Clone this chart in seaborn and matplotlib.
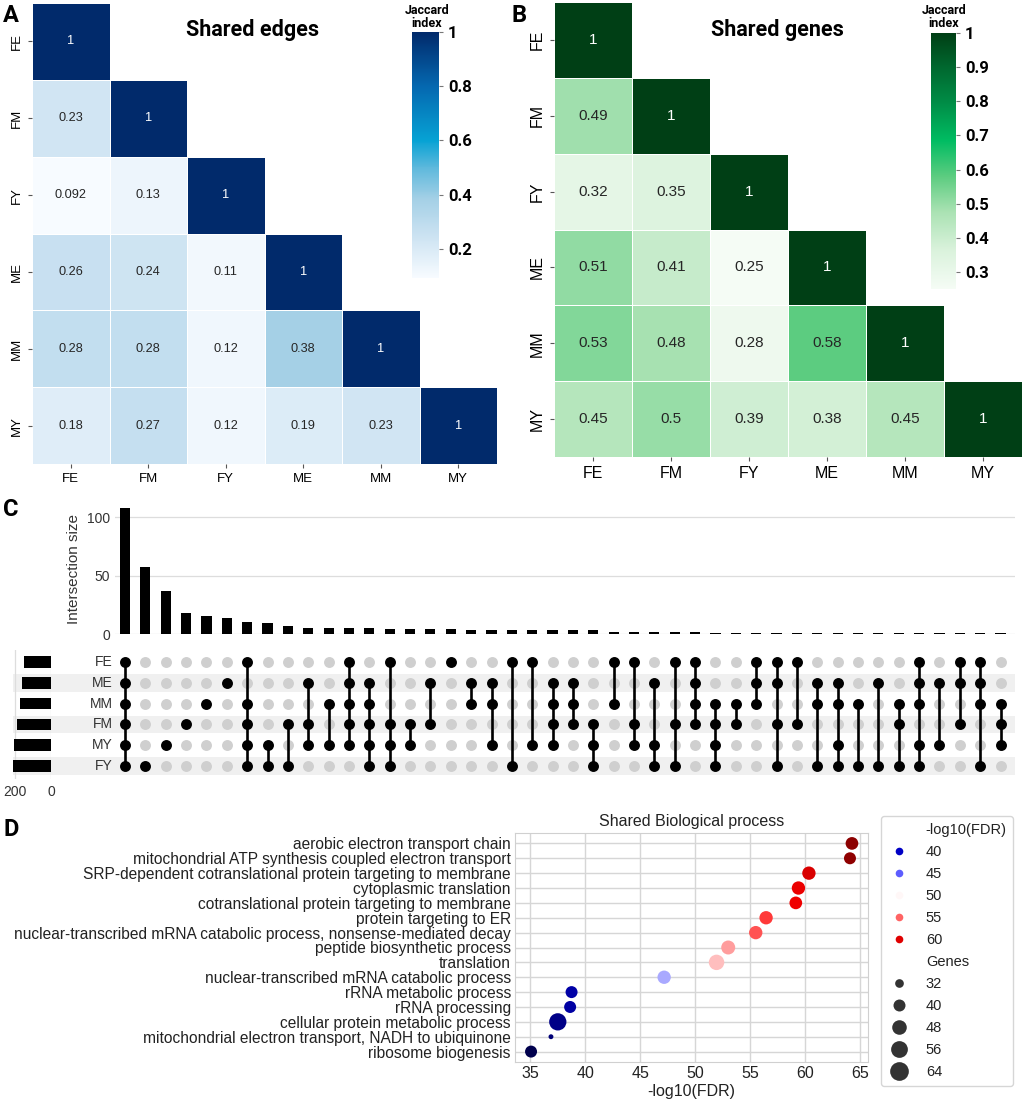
import numpy as np
import pandas as pd
import matplotlib
matplotlib.use("Agg")
import matplotlib.pyplot as plt
import seaborn as sns
from matplotlib.colors import LinearSegmentedColormap, Normalize
from matplotlib.lines import Line2D

# ---------------- data ----------------
samples = ["FE", "FM", "FY", "ME", "MM", "MY"]
edges_lower = [
    [1],
    [0.23, 1],
    [0.092, 0.13, 1],
    [0.26, 0.24, 0.11, 1],
    [0.28, 0.28, 0.12, 0.38, 1],
    [0.18, 0.27, 0.12, 0.19, 0.23, 1],
]
genes_lower = [
    [1],
    [0.49, 1],
    [0.32, 0.35, 1],
    [0.51, 0.41, 0.25, 1],
    [0.53, 0.48, 0.28, 0.58, 1],
    [0.45, 0.5, 0.39, 0.38, 0.45, 1],
]

upset_sets = ["FE", "ME", "MM", "FM", "MY", "FY"]
set_sizes = [148, 160, 170, 188, 202, 210]
intersections = [
    "FE ME MM FM MY FY", "FY", "MY", "FM", "MM", "ME",
    "FE MM FM MY FY", "MY FY", "FM FY", "ME FM MY", "MM MY",
    "FE ME MM FM MY", "ME MM FM MY FY", "FE FM MY FY", "FM MY", "ME FM",
    "FE", "ME MM", "ME MM MY", "FE FY", "FE MY", "ME MM FM MY",
    "ME MM FM", "FM MY FY", "FE MM", "FE FM MY", "ME MY FY", "FE FM FY",
    "FE ME MM FM", "MM FM MY FY", "MM FM", "FE ME MM", "FE ME FM FY",
    "FE FM", "ME MM FY", "ME MM MY FY", "MM FY", "ME FY", "MM FM FY",
    "FE ME MM MY FY", "ME MY", "FE ME FM", "FE ME MM FY", "MM FM MY",
]
intersection_sizes = [108, 57, 37, 18, 15, 14, 10, 9, 7, 5, 5, 5, 5, 4, 4, 4, 4,
                      3, 3, 3, 3, 3, 3, 3, 2, 2, 2, 2, 2,
                      1, 1, 1, 1, 1, 1, 1, 1, 1, 1, 1, 1, 1, 1, 1]

go_terms = [
    "aerobic electron transport chain",
    "mitochondrial ATP synthesis coupled electron transport",
    "SRP-dependent cotranslational protein targeting to membrane",
    "cytoplasmic translation",
    "cotranslational protein targeting to membrane",
    "protein targeting to ER",
    "nuclear-transcribed mRNA catabolic process, nonsense-mediated decay",
    "peptide biosynthetic process",
    "translation",
    "nuclear-transcribed mRNA catabolic process",
    "rRNA metabolic process",
    "rRNA processing",
    "cellular protein metabolic process",
    "mitochondrial electron transport, NADH to ubiquinone",
    "ribosome biogenesis",
]
go_fdr = [64.24, 64.06, 60.33, 59.38, 59.14, 56.44, 55.5, 53.0, 51.94, 47.18,
          38.77, 38.64, 37.52, 36.9, 35.09]
go_genes = [42, 40, 44, 44, 42, 44, 44, 46, 51, 44, 40, 40, 58, 26, 40]
legend_fdr = [40, 45, 50, 55, 60]
legend_genes = [32, 40, 48, 56, 64]

# ---------------- layout helpers ----------------
W, H, DPI = 1024, 1106, 100
def fa(l, t, r, b):
    return [l / W, 1 - b / H, (r - l) / W, (b - t) / H]

FONTS = ["Liberation Sans", "DejaVu Sans"]
plt.rcParams["font.family"] = FONTS
fig = plt.figure(figsize=(W / DPI, H / DPI), dpi=DPI)

def full_matrix(lower):
    n = len(lower)
    m = np.zeros((n, n))
    for i, row in enumerate(lower):
        for j, v in enumerate(row):
            m[i, j] = v
            m[j, i] = v
    return pd.DataFrame(m, index=samples, columns=samples)

cmapA = LinearSegmentedColormap.from_list("edgeblues", [
    (0.0, "#f7fbff"), (0.18, "#c9e1f1"), (0.32, "#a4d0e6"), (0.45, "#5cb8dc"),
    (0.56, "#06a2d4"), (0.78, "#0568b0"), (1.0, "#012a6b")])
cmapB = LinearSegmentedColormap.from_list("genegreens", [
    (0.0, "#f5fcf5"), (0.15, "#daf2dc"), (0.3, "#aae2b3"), (0.44, "#5ccc80"),
    (0.58, "#00bc62"), (0.73, "#008c46"), (0.87, "#00672e"), (1.0, "#003f15")])

def draw_heat(lower, cmap, ax_box, cax_box, title, title_xy, jac_xy, ticks,
              annot_size, tick_size, letter, letter_xy):
    df = full_matrix(lower)
    mask = np.triu(np.ones_like(df, dtype=bool), k=1)
    ax = fig.add_axes(fa(*ax_box))
    cax = fig.add_axes(fa(*cax_box))
    sns.heatmap(df, mask=mask, cmap=cmap, annot=True,
                annot_kws={"size": annot_size}, linewidths=0.6,
                linecolor="white", ax=ax, cbar_ax=cax)
    ax.set_xticklabels(samples, rotation=0, fontsize=tick_size)
    ax.set_yticklabels(samples, rotation=90, va="center", fontsize=tick_size)
    ax.tick_params(length=3, color="#555555")
    cax.set_yticks(ticks)
    cax.set_yticklabels([f"{t:g}" for t in ticks], fontsize=12,
                        fontweight="bold", family="Roboto")
    cax.tick_params(length=3, color="#777777")
    fig.text(title_xy[0] / W, 1 - title_xy[1] / H, title, ha="center",
             va="center", fontsize=15.5, fontweight="bold", family="Roboto")
    fig.text(jac_xy[0] / W, 1 - jac_xy[1] / H, "Jaccard\nindex", ha="center",
             va="center", fontsize=9, fontweight="bold", family="Roboto",
             linespacing=1.0)
    fig.text(letter_xy[0] / W, 1 - letter_xy[1] / H, letter, ha="center",
             va="center", fontsize=17, fontweight="bold", family="Roboto")

draw_heat(edges_lower, cmapA, (32, 3, 497, 464), (412, 32, 439, 278),
          "Shared edges", (253, 30), (427, 17), [0.2, 0.4, 0.6, 0.8, 1.0],
          9.2, 9.5, "A", (11, 16))
draw_heat(genes_lower, cmapB, (554, 2, 1022, 457), (931, 33, 956, 289),
          "Shared genes", (777, 30), (944, 17),
          [0.3, 0.4, 0.5, 0.6, 0.7, 0.8, 0.9, 1.0],
          11, 11.5, "B", (519, 15))

# ---------------- C: UpSet ----------------
ncol = len(intersections)
cols = list(range(ncol))
axBar = fig.add_axes(fa(115, 503, 1015, 634))
sns.barplot(x=cols, y=intersection_sizes, color="black", width=0.5,
            saturation=1, ax=axBar)
axBar.set_xlim(-0.49, 43.71)
axBar.set_ylim(0, 112)
axBar.set_yticks([0, 50, 100])
axBar.set_xticks([])
axBar.set_xlabel("")
axBar.set_ylabel("Intersection size", fontsize=11, color="#333333")
axBar.tick_params(axis="y", labelsize=10, length=0, labelcolor="#333333")
axBar.grid(axis="y", color="#dddddd", lw=0.9)
axBar.set_axisbelow(True)
for s in axBar.spines.values():
    s.set_visible(False)

axM = fig.add_axes(fa(13, 649.5, 1015, 778.5))
rows_on, cols_on, rows_off, cols_off = [], [], [], []
for c, inter in enumerate(intersections):
    members = inter.split()
    for r, name in enumerate(upset_sets):
        if name in members:
            rows_on.append(r); cols_on.append(c)
        else:
            rows_off.append(r); cols_off.append(c)
for r in range(1, len(upset_sets), 2):
    axM.axhspan(r - 0.42, r + 0.42, color="#f0f0f0", zorder=0, lw=0)
sns.scatterplot(x=cols_off, y=rows_off, color="#cfcfcf", s=62, linewidth=0,
                ax=axM, legend=False, zorder=2)
for c, inter in enumerate(intersections):
    rr = [upset_sets.index(m) for m in inter.split()]
    if len(rr) > 1:
        axM.plot([c, c], [min(rr), max(rr)], color="black", lw=1.9, zorder=3)
sns.scatterplot(x=cols_on, y=rows_on, color="black", s=62, linewidth=0,
                ax=axM, legend=False, zorder=4)
for r, name in enumerate(upset_sets):
    axM.text(-0.6, r, name, ha="right", va="center", fontsize=10,
             color="#333333")
axM.set_xlim(-5.5, 43.71)
axM.set_ylim(5.6, -0.6)
axM.axis("off")

axS = fig.add_axes(fa(13, 649.5, 51, 778.5))
axS.set_facecolor("none")
sns.barplot(x=set_sizes, y=upset_sets, orient="h", color="black", width=0.55,
            saturation=1, ax=axS)
axS.set_xlim(210, 0)
axS.set_ylim(5.6, -0.6)
axS.set_xticks([0, 200])
axS.set_yticks([])
axS.set_xlabel(""); axS.set_ylabel("")
axS.tick_params(axis="x", labelsize=10, length=0, labelcolor="#333333", pad=5)
axS.grid(axis="x", color="#dddddd", lw=0.9)
axS.set_axisbelow(True)
for s in axS.spines.values():
    s.set_visible(False)
fig.text(11 / W, 1 - 510 / H, "C", ha="center", va="center", fontsize=17,
         fontweight="bold", family="Roboto")

# ---------------- D: GO dot plot ----------------
def gene_area(g):
    return 4.44 * (g - 23.2)

cmapD = LinearSegmentedColormap.from_list("seismic_bright", [
    (0.0, (0, 0, 0.3)), (0.25, (0, 0, 1)), (0.5, (1, 1, 1)),
    (0.8, (1, 0, 0)), (1.0, (0.55, 0, 0))])
dfD = pd.DataFrame({"term": go_terms, "fdr": go_fdr, "genes": go_genes})
hnorm = Normalize(min(go_fdr), max(go_fdr))

axD = fig.add_axes(fa(515, 833, 868, 1062))
axD.set_facecolor("white")
sns.scatterplot(data=dfD, x="fdr", y="term", hue="fdr", size="genes",
                palette=cmapD, hue_norm=hnorm,
                sizes=(gene_area(min(go_genes)), gene_area(max(go_genes))),
                linewidth=0, ax=axD, legend=False, zorder=3)
if not axD.yaxis_inverted():
    axD.invert_yaxis()
axD.set_xticks([35, 40, 45, 50, 55, 60, 65])
axD.grid(True, color="#d6d6d6", lw=1.0)
axD.set_axisbelow(True)
for s in axD.spines.values():
    s.set_color("#d0d0d0")
axD.set_ylabel("")
axD.set_xlabel("-log10(FDR)", fontsize=11.5, labelpad=2, color="#222222")
axD.set_title("Shared Biological process", fontsize=11.5, pad=5,
              color="#222222")
axD.tick_params(axis="x", length=0, labelsize=11.5, pad=3,
                labelcolor="#222222")
axD.tick_params(axis="y", length=0, labelsize=11.2, pad=3,
                labelcolor="#222222")
fig.text(11 / W, 1 - 829 / H, "D", ha="center", va="center", fontsize=17,
         fontweight="bold", family="Roboto")

handles, labels = [], []
handles.append(Line2D([], [], ls="", marker=None)); labels.append("-log10(FDR)")
for v in legend_fdr:
    handles.append(Line2D([], [], ls="", marker="o", ms=5.5, mew=0,
                          color=cmapD(hnorm(v))))
    labels.append(str(v))
handles.append(Line2D([], [], ls="", marker=None)); labels.append("Genes")
for g in legend_genes:
    handles.append(Line2D([], [], ls="", marker="o", ms=np.sqrt(gene_area(g)),
                          mew=0, color="#333333"))
    labels.append(str(g))
leg = fig.legend(handles, labels, loc="upper left",
                 bbox_to_anchor=(874 / W, 1 - 809 / H), fontsize=10.5,
                 frameon=True, edgecolor="#cccccc", fancybox=True,
                 labelspacing=0.55, handletextpad=1.1, borderpad=0.45,
                 handlelength=1.5)
for t in leg.get_texts():
    t.set_color("#222222")

fig.savefig("out.png", dpi=DPI)
